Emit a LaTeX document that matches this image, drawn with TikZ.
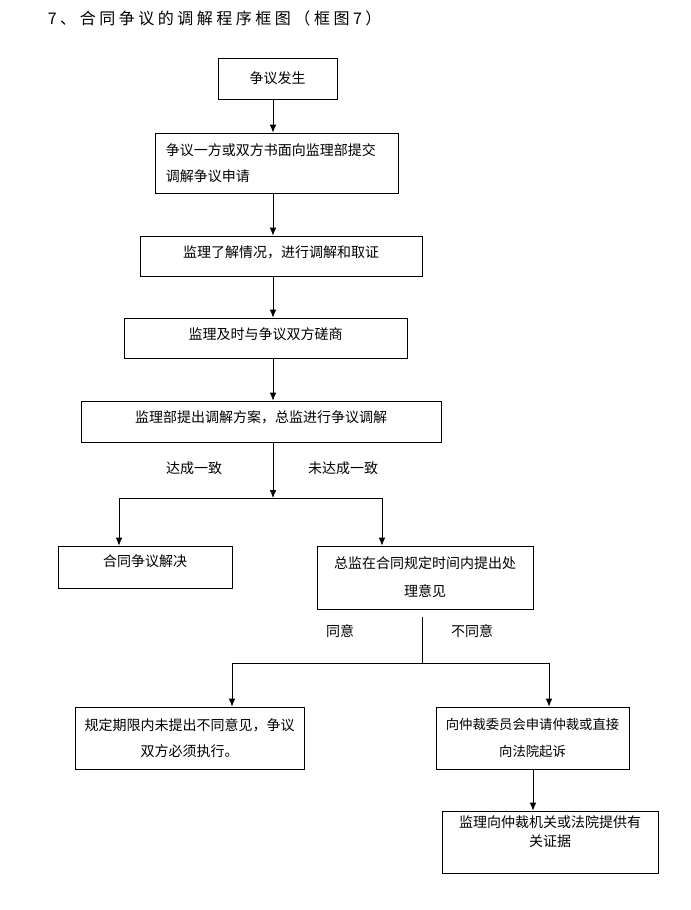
\documentclass[tikz,border=0pt]{standalone}
\usepackage{fontspec}
\setmainfont{Noto Sans CJK SC}
\usetikzlibrary{positioning,arrows.meta}
\tikzset{box/.style={draw, line width=0.6pt, inner sep=2pt, align=center, font=\fontsize{10.5}{20}\selectfont},
         lbl/.style={font=\fontsize{10.5}{13}\selectfont}}

\begin{document}
\begin{tikzpicture}[>={Latex[length=6pt,width=5pt]}, x=0.75pt, y=-0.75pt, line width=0.6pt]
            \useasboundingbox (0,0) rectangle (691,910);

            \draw(43,18) node[anchor=west] (t) {\fontsize{12}{14}\selectfont\addfontfeatures{LetterSpace=22}7、合同争议的调解程序框图（框图7）};

            \draw(277.5,78.5) node[box, minimum width=89.25pt, minimum height=30.75pt] (a) {争议发生};
            \draw(276.5,163) node[box, minimum width=182.25pt, minimum height=45pt, text width=166pt, align=left] (b) {争议一方或双方书面向监理部提交\\调解争议申请};
            \draw(281,256) node[box, minimum width=211.5pt, minimum height=30pt, text depth=7pt] (c) {监理了解情况，进行调解和取证};
            \draw(265.5,338) node[box, minimum width=212.25pt, minimum height=30pt, text depth=7pt] (d) {监理及时与争议双方磋商};
            \draw(261,421.5) node[box, minimum width=270pt, minimum height=30.75pt, text depth=7pt] (e) {监理部提出调解方案，总监进行争议调解};
            \draw(145,567) node[box, minimum width=130.5pt, minimum height=31.5pt, text depth=9pt] (f) {合同争议解决};
            \draw(425,577.5) node[box, minimum width=162pt, minimum height=47.25pt, font=\fontsize{10.5}{21}\selectfont] (g) {总监在合同规定时间内提出处\\理意见};
            \draw(189.5,738) node[box, minimum width=171.75pt, minimum height=46.5pt] (h) {规定期限内未提出不同意见，争议\\双方必须执行。};
            \draw(532.5,738) node[box, minimum width=144.75pt, minimum height=46.5pt, font=\fontsize{10}{20}\selectfont] (i) {向仲裁委员会申请仲裁或直接\\向法院起诉};
            \draw(550,842) node[box, minimum width=162pt, minimum height=46.5pt, font=\fontsize{10.5}{14.25}\selectfont, text depth=16pt] (j) {监理向仲裁机关或法院提供有\\关证据};

            \draw(194,468) node[lbl] (y1) {达成一致};
            \draw(343,468) node[lbl] (n1) {未达成一致};
            \draw(340,631) node[lbl] (y2) {同意};
            \draw(472,631) node[lbl] (n2) {不同意};

            \coordinate (m) at (273,0);
            \coordinate (p) at (273,498);
            \coordinate (pl) at (119,498);
            \coordinate (pr) at (382,498);
            \coordinate (q) at (422,617);
            \coordinate (qm) at (422,663);
            \coordinate (ql) at (232,663);
            \coordinate (qr) at (549,663);
            \coordinate (s) at (533,0);

            \draw[->] (a.south -| m) -- (b.north -| m);
            \draw[->] (b.south -| m) -- (c.north -| m);
            \draw[->] (c.south -| m) -- (d.north -| m);
            \draw[->] (d.south -| m) -- (e.north -| m);
            \draw[->] (e.south -| m) -- (p);
            \draw (pl) -- (pr);
            \draw[->] (pl) -- (f.north -| pl);
            \draw[->] (pr) -- (g.north -| pr);
            \draw (q) -- (qm);
            \draw (ql) -- (qr);
            \draw[->] (ql) -- (h.north -| ql);
            \draw[->] (qr) -- (i.north -| qr);
            \draw[->] (i.south -| s) -- (j.north -| s);

        \end{tikzpicture}
\end{document}
